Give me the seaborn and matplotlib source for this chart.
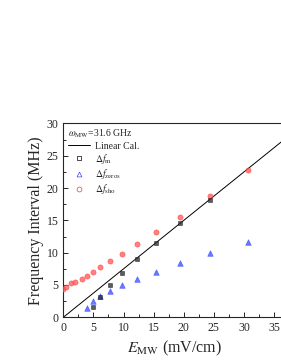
import matplotlib
matplotlib.use("Agg")
import matplotlib.pyplot as plt
import seaborn as sns
import pandas as pd
from matplotlib.lines import Line2D
from matplotlib.ticker import MultipleLocator

# Data
e_sho = [0.0, 0.4, 1.3, 2.0, 3.1, 3.95, 4.9, 6.1, 7.7, 9.75, 12.2, 15.35, 19.4, 24.4, 30.7]
f_sho = [4.35, 4.75, 5.25, 5.5, 5.92, 6.43, 7.05, 7.82, 8.7, 9.83, 11.28, 13.18, 15.55, 18.75, 22.77]
e_m = [4.9, 6.1, 7.7, 9.75, 12.2, 15.35, 19.4, 24.4]
f_m = [1.55, 3.19, 5.0, 6.9, 8.96, 11.43, 14.52, 18.23]
e_zeros = [3.95, 4.9, 6.1, 7.7, 9.75, 12.2, 15.35, 19.4, 24.4, 30.7]
f_zeros = [1.44, 2.52, 3.29, 4.06, 5.0, 5.92, 7.0, 8.34, 9.89, 11.69]
lin_x = [0.0, 37.0]
lin_y = [0.0, 27.75]

sns.set_style("ticks")
plt.rcParams['font.family'] = ['Liberation Serif', 'DejaVu Serif']
plt.rcParams['mathtext.fontset'] = 'stix'

fig = plt.figure(figsize=(2.81, 3.63), dpi=100)
ax = fig.add_axes([0.2253, 0.1259, 0.793, 0.534])

df_lin = pd.DataFrame({"x": lin_x, "y": lin_y})
sns.lineplot(data=df_lin, x="x", y="y", ax=ax, color="black", lw=0.7)

sns.scatterplot(x=e_sho, y=f_sho, ax=ax, marker="o", color="#ff5555", alpha=0.75,
                s=14, edgecolor="#ff3333", linewidth=0.4, zorder=3)
sns.scatterplot(x=e_m, y=f_m, ax=ax, marker="s", color="#333333", alpha=0.8,
                s=12, edgecolor="#111111", linewidth=0.4, zorder=4)
sns.scatterplot(x=e_zeros, y=f_zeros, ax=ax, marker="^", color="#4455ff", alpha=0.8,
                s=16, edgecolor="#3344ff", linewidth=0.4, zorder=3)

ax.set_xlim(0, 37)
ax.set_ylim(0, 30)
ax.xaxis.set_major_locator(MultipleLocator(5))
ax.xaxis.set_minor_locator(MultipleLocator(2.5))
ax.yaxis.set_major_locator(MultipleLocator(5))
ax.yaxis.set_minor_locator(MultipleLocator(2.5))
ax.tick_params(which="both", direction="in", labelsize=8.5, width=0.7)
ax.tick_params(which="major", length=3.5)
ax.tick_params(which="minor", length=2)
for s in ax.spines.values():
    s.set_linewidth(0.8)
    s.set_visible(True)

ax.set_xlabel(r"$E_{\mathrm{MW}}$ (mV/cm)", fontsize=11.5, labelpad=3)
ax.set_ylabel("Frequency Interval (MHz)", fontsize=11.5, labelpad=2)

handles = [
    Line2D([], [], color="black", lw=0.7),
    Line2D([], [], marker="s", ls="none", mfc="none", mec="black", ms=3.2, mew=0.5),
    Line2D([], [], marker="^", ls="none", mfc="none", mec="#3344ff", ms=3.5, mew=0.5),
    Line2D([], [], marker="o", ls="none", mfc="none", mec="#ff3333", ms=3.5, mew=0.5),
]
labels = ["Linear Cal.", r"$\Delta f_{\mathrm{m}}$", r"$\Delta f_{\mathrm{zeros}}$", r"$\Delta f_{\mathrm{sho}}$"]
leg = ax.legend(handles, labels, loc="upper left", frameon=False, fontsize=7,
                title=r"$\omega_{\mathrm{MW}}$=31.6 GHz", title_fontsize=7,
                alignment="left", handlelength=2.3, labelspacing=0.12,
                borderaxespad=0.15, borderpad=0.3, handletextpad=0.5,
                bbox_to_anchor=(0.0, 1.0))
leg._legend_box.sep = 1

fig.savefig("out.png", dpi=100)
